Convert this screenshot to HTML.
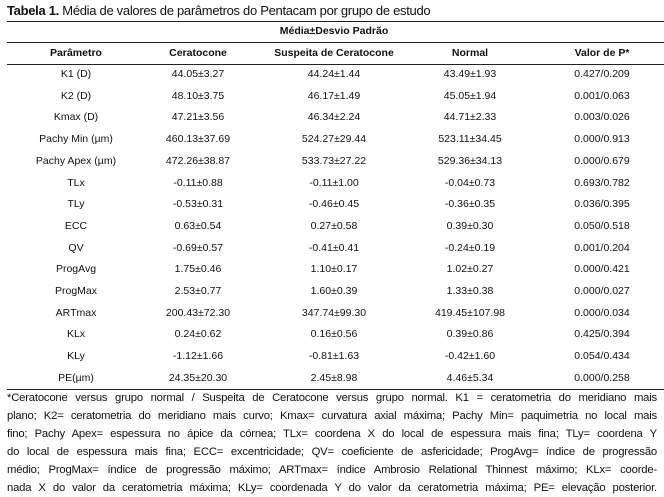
<!DOCTYPE html>
<html><head><meta charset="utf-8"><style>
body{margin:0;width:664px;height:482px;background:#fff;font-family:"Liberation Sans",sans-serif;color:#111;position:relative;overflow:hidden}
.t{position:absolute;font-size:10.5px;text-align:center;white-space:nowrap;transform:translateX(-50%)}
.h{font-weight:bold}
.line{position:absolute;left:7px;right:0;height:1px;background:#222}
#title{position:absolute;left:7px;top:3px;font-size:13px;letter-spacing:-0.3px}
#foot{position:absolute;left:7px;top:389px;width:650px;font-size:11.3px;line-height:18px;letter-spacing:-0.2px}
#foot div{text-align:justify;text-align-last:justify;white-space:nowrap;overflow:visible}
#foot div.last{text-align-last:justify}
</style></head><body>
<div id="title"><b>Tabela 1.</b> Média de valores de parâmetros do Pentacam por grupo de estudo</div>
<div class="line" style="top:21px"></div>
<div class="t h" style="left:334px;top:25px">Média±Desvio Padrão</div>
<div class="line" style="top:42px"></div>
<div class="line" style="top:64px"></div>
<div class="line" style="top:389px"></div>
<div id="rows"></div>
<div id="foot">
<div style="white-space:normal">*Ceratocone versus grupo normal / Suspeita de Ceratocone versus grupo normal. K1 = ceratometria do meridiano mais</div>
<div style="white-space:normal">plano; K2= ceratometria do meridiano mais curvo; Kmax= curvatura axial máxima; Pachy Min= paquimetria no local mais</div>
<div style="white-space:normal">fino; Pachy Apex= espessura no ápice da córnea; TLx= coordena X do local de espessura mais fina; TLy= coordena Y</div>
<div style="white-space:normal">do local de espessura mais fina; ECC= excentricidade; QV= coeficiente de asfericidade; ProgAvg= índice de progressão</div>
<div style="white-space:normal">médio; ProgMax= índice de progressão máximo; ARTmax= índice Ambrosio Relational Thinnest máximo; KLx= coorde-</div>
<div style="white-space:normal">nada X do valor da ceratometria máxima; KLy= coordenada Y do valor da ceratometria máxima; PE= elevação posterior.</div>
</div>
<script>
const headers=["Parâmetro","Ceratocone","Suspeita de Ceratocone","Normal","Valor de P*"];
const params=["K1 (D)","K2 (D)","Kmax (D)","Pachy Min (µm)","Pachy Apex (µm)","TLx","TLy","ECC","QV","ProgAvg","ProgMax","ARTmax","KLx","KLy","PE(µm)"];
const ceratocone=["44.05±3.27","48.10±3.75","47.21±3.56","460.13±37.69","472.26±38.87","-0.11±0.88","-0.53±0.31","0.63±0.54","-0.69±0.57","1.75±0.46","2.53±0.77","200.43±72.30","0.24±0.62","-1.12±1.66","24.35±20.30"];
const suspeita=["44.24±1.44","46.17±1.49","46.34±2.24","524.27±29.44","533.73±27.22","-0.11±1.00","-0.46±0.45","0.27±0.58","-0.41±0.41","1.10±0.17","1.60±0.39","347.74±99.30","0.16±0.56","-0.81±1.63","2.45±8.98"];
const normal=["43.49±1.93","45.05±1.94","44.71±2.33","523.11±34.45","529.36±34.13","-0.04±0.73","-0.36±0.35","0.39±0.30","-0.24±0.19","1.02±0.27","1.33±0.38","419.45±107.98","0.39±0.86","-0.42±1.60","4.46±5.34"];
const pvals=["0.427/0.209","0.001/0.063","0.003/0.026","0.000/0.913","0.000/0.679","0.693/0.782","0.036/0.395","0.050/0.518","0.001/0.204","0.000/0.421","0.000/0.027","0.000/0.034","0.425/0.394","0.054/0.434","0.000/0.258"];
const colX=[76,198,334,470,602];
const root=document.getElementById('rows');
headers.forEach((h,i)=>{
 const d=document.createElement('div');d.className='t h';d.textContent=h;
 d.style.left=colX[i]+'px';d.style.top='47px';
 
 
 root.appendChild(d);
});
const cols=[params,ceratocone,suspeita,normal,pvals];
params.forEach((p,r)=>{
 const y=68+r*21.7;
 cols.forEach((c,i)=>{
  const d=document.createElement('div');d.className='t';d.textContent=c[r];
  d.style.left=colX[i]+'px';d.style.top=y+'px';
  
  
  root.appendChild(d);
 });
});
</script>
</body></html>
